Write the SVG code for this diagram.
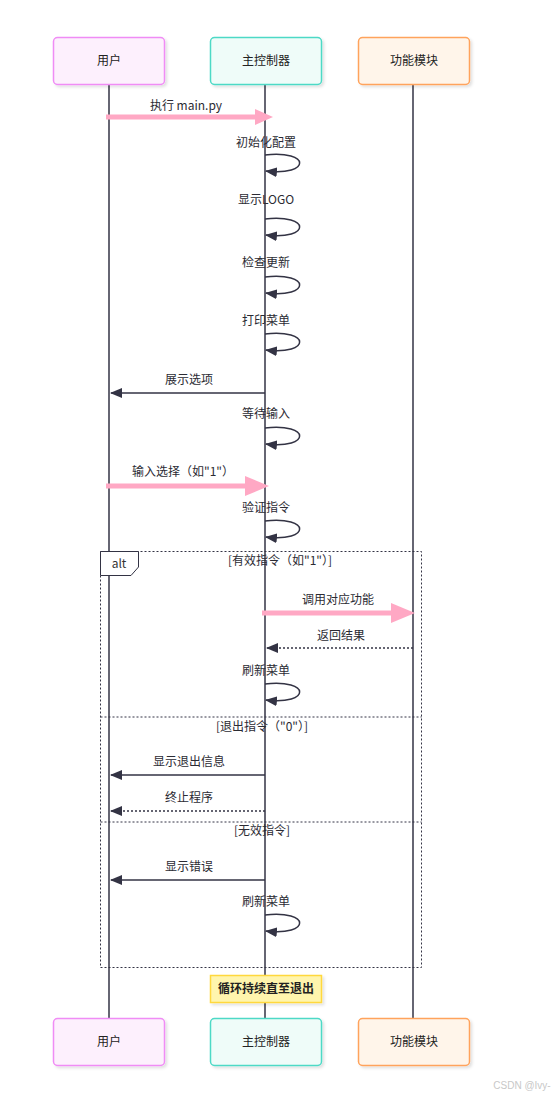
<svg xmlns="http://www.w3.org/2000/svg" width="553" height="1097" viewBox="0 0 553 1097">
<style>
text{font-family:"Noto Sans CJK SC","Noto Sans",sans-serif;font-size:12px;fill:#2b2b33;text-anchor:middle}
.life{stroke:#333344;stroke-width:1.5;fill:none}
.msg{stroke:#333344;stroke-width:1.5;fill:none}
.dot{stroke:#333344;stroke-width:1.5;fill:none;stroke-dasharray:2 2}
.pink{stroke:#ffa8c4;stroke-width:5;fill:none}
.loop{stroke:#333344;stroke-width:1.5;fill:none}
.frame{stroke:#333344;stroke-width:1;fill:none;stroke-dasharray:2 2}
.actor text{font-size:12px;fill:#222}
</style>
<defs>
<marker id="ah" viewBox="0 0 12 10" refX="11" refY="5" markerWidth="12" markerHeight="10" markerUnits="userSpaceOnUse" orient="auto"><path d="M0,0 L12,5 L0,10 z" fill="#333344"/></marker>
<filter id="sh" x="-10%" y="-10%" width="130%" height="130%"><feDropShadow dx="2" dy="2" stdDeviation="1.5" flood-color="#000" flood-opacity="0.12"/></filter>
</defs>

<g id="lifelines">
<line class="life" x1="109" y1="85" x2="109" y2="1018"/>
<line class="life" x1="265" y1="85" x2="265" y2="1018"/>
<line class="life" x1="413" y1="85" x2="413" y2="1018"/>
</g>

<g id="alt-frame">
<rect class="frame" x="100.5" y="551.5" width="321" height="416"/>
<path d="M100.5,551.5 H138.5 V567 L131,575.5 H100.5 Z" fill="#fff" stroke="#333344" stroke-width="1"/>
<text x="119" y="568" style="fill:#333">alt</text>
<text x="280" y="565" style="font-family:'Noto Sans CJK SC','DejaVu Sans Mono',monospace">[有效指令（如"1"）]</text>
<line class="frame" x1="100.5" y1="717" x2="421.5" y2="717"/>
<text x="262" y="731">[退出指令（"0"）]</text>
<line class="frame" x1="100.5" y1="822" x2="421.5" y2="822"/>
<text x="262" y="835">[无效指令]</text>
</g>

<g id="actor-user-top" class="actor"><rect x="53.5" y="37.5" width="111" height="47" rx="4" fill="#fdf0fd" stroke="#f08cf5" stroke-width="1.5" filter="url(#sh)"/><text x="109" y="65">用户</text></g>
<g id="actor-ctrl-top" class="actor"><rect x="210.5" y="37.5" width="111" height="47" rx="4" fill="#effcf9" stroke="#4dd9c6" stroke-width="1.5" filter="url(#sh)"/><text x="266" y="65">主控制器</text></g>
<g id="actor-func-top" class="actor"><rect x="358.5" y="37.5" width="111" height="47" rx="4" fill="#fff5ea" stroke="#ffa35c" stroke-width="1.5" filter="url(#sh)"/><text x="414" y="65">功能模块</text></g>

<g id="actor-user-bottom" class="actor"><rect x="53.5" y="1018.5" width="111" height="47" rx="4" fill="#fdf0fd" stroke="#f08cf5" stroke-width="1.5" filter="url(#sh)"/><text x="109" y="1046">用户</text></g>
<g id="actor-ctrl-bottom" class="actor"><rect x="210.5" y="1018.5" width="111" height="47" rx="4" fill="#effcf9" stroke="#4dd9c6" stroke-width="1.5" filter="url(#sh)"/><text x="266" y="1046">主控制器</text></g>
<g id="actor-func-bottom" class="actor"><rect x="358.5" y="1018.5" width="111" height="47" rx="4" fill="#fff5ea" stroke="#ffa35c" stroke-width="1.5" filter="url(#sh)"/><text x="414" y="1046">功能模块</text></g>

<g id="connectors">
<line class="msg" x1="109" y1="117" x2="256" y2="117"/>
<line class="pink" x1="106" y1="117" x2="258" y2="117"/>
<path d="M255,109 L273,117 L255,125 Z" fill="#ffa8c4"/>
<text x="186" y="110">执行 main.py</text>

<text x="266" y="147">初始化配置</text>
<path class="loop" d="M265,155 C311,150 311,176 266,171" marker-end="url(#ah)"/>

<text x="266" y="204">显示LOGO</text>
<path class="loop" d="M265,219 C311,214 311,240 266,235" marker-end="url(#ah)"/>

<text x="266" y="267">检查更新</text>
<path class="loop" d="M265,277 C311,272 311,298 266,293" marker-end="url(#ah)"/>

<text x="266" y="325">打印菜单</text>
<path class="loop" d="M265,334 C311,329 311,355 266,350" marker-end="url(#ah)"/>

<text x="189" y="384">展示选项</text>
<line class="msg" x1="265" y1="393" x2="111" y2="393" marker-end="url(#ah)"/>

<text x="266" y="418">等待输入</text>
<path class="loop" d="M265,428 C311,423 311,449 266,444" marker-end="url(#ah)"/>

<text x="183" y="476">输入选择（如"1"）</text>
<line class="msg" x1="109" y1="486" x2="248" y2="486"/>
<line class="pink" x1="106" y1="486" x2="250" y2="486"/>
<path d="M245,476 L269,486 L245,496 Z" fill="#ffa8c4"/>

<text x="266" y="512">验证指令</text>
<path class="loop" d="M265,521 C311,516 311,542 266,537" marker-end="url(#ah)"/>

<text x="338" y="604">调用对应功能</text>
<line class="msg" x1="265" y1="613" x2="396" y2="613"/>
<line class="pink" x1="262" y1="613" x2="396" y2="613"/>
<path d="M391,603 L415,613 L391,623 Z" fill="#ffa8c4"/>

<text x="341" y="640">返回结果</text>
<line class="dot" x1="413" y1="648" x2="267" y2="648" marker-end="url(#ah)"/>

<text x="266" y="675">刷新菜单</text>
<path class="loop" d="M265,684 C311,679 311,705 266,700" marker-end="url(#ah)"/>

<text x="189" y="766">显示退出信息</text>
<line class="msg" x1="265" y1="775" x2="111" y2="775" marker-end="url(#ah)"/>

<text x="189" y="802">终止程序</text>
<line class="dot" x1="265" y1="811" x2="111" y2="811" marker-end="url(#ah)"/>

<text x="189" y="871">显示错误</text>
<line class="msg" x1="265" y1="880" x2="111" y2="880" marker-end="url(#ah)"/>

<text x="266" y="906">刷新菜单</text>
<path class="loop" d="M265,915 C311,910 311,936 266,931" marker-end="url(#ah)"/>
</g>

<g id="note-loop">
<rect x="210.5" y="975.5" width="111" height="27" fill="#fff5ad" stroke="#ffd83d" stroke-width="1.5" filter="url(#sh)"/>
<text x="266" y="993" style="font-weight:bold;fill:#222">循环持续直至退出</text>
</g>

<text x="522" y="1089" style="font-family:'Liberation Sans',sans-serif;font-size:10px;fill:#c8c8c8">CSDN @Ivy-</text>
</svg>
